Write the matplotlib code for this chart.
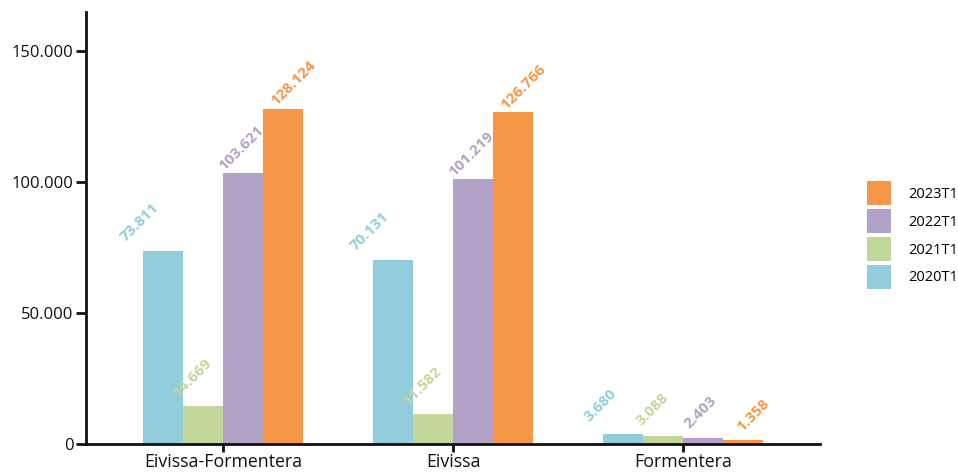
import matplotlib
matplotlib.use("Agg")
import matplotlib.pyplot as plt
import numpy as np
from matplotlib.ticker import FuncFormatter
from matplotlib.patches import Patch

categories = ["Eivissa-Formentera", "Eivissa", "Formentera"]
series_names = ["2020T1", "2021T1", "2022T1", "2023T1"]
v2020 = [73811, 70131, 3680]
v2021 = [14669, 11582, 3088]
v2022 = [103621, 101219, 2403]
v2023 = [128124, 126766, 1358]
values = [v2020, v2021, v2022, v2023]
colors = ["#92CDDC", "#C3D69B", "#B2A2C7", "#F79646"]
label_offsets = [(-23, 29), (-11, 27), (-2, 25), (10, 25)]  # pixel offsets for value labels

plt.rcParams["font.family"] = ["Open Sans", "DejaVu Sans"]

def fmt(v):
    return f"{int(v):,}".replace(",", ".")

fig = plt.figure(figsize=(9.58, 4.73), dpi=100)
ax = fig.add_axes([86/958, 1-444/473, (820-86)/958, (444-12)/473])

x = np.arange(len(categories))
w = 40/230
n = len(series_names)
for i, (name, vals, c) in enumerate(zip(series_names, values, colors)):
    pos = x + (i - (n-1)/2) * w
    ax.bar(pos, vals, width=w, color=c, label=name, linewidth=0)
    dx, dy = label_offsets[i]
    for px, v in zip(pos, vals):
        ax.annotate(fmt(v), xy=(px, v), xytext=(dx, dy), textcoords="offset pixels",
                    ha="center", va="center", rotation=45, color=c,
                    fontsize=11, fontweight="bold")

ax.set_xlim(-0.596, 2.596)
ax.set_ylim(0, 165000)
ax.set_yticks([0, 50000, 100000, 150000])
ax.yaxis.set_major_formatter(FuncFormatter(lambda v, p: fmt(v)))
ax.set_xticks(x)
ax.set_xticklabels(categories)
for s in ["top", "right"]:
    ax.spines[s].set_visible(False)
for s in ["left", "bottom"]:
    ax.spines[s].set_linewidth(2)
    ax.spines[s].set_color("#111111")
ax.tick_params(axis="both", length=7, width=2, colors="#111111")
ax.tick_params(axis="y", labelsize=12, pad=2)
ax.tick_params(axis="x", labelsize=12.8, pad=0.5, length=6)

handles = [Patch(facecolor=c, edgecolor="none") for c in colors][::-1]
labels = series_names[::-1]
fig.legend(handles, labels, loc="center left", bbox_to_anchor=(867/958, 1-235/473),
           frameon=False, fontsize=10.5, handlelength=1.64, handleheight=2.15,
           labelspacing=0.27, handletextpad=1.2, borderpad=0, borderaxespad=0)

fig.savefig("out.png", dpi=100)
